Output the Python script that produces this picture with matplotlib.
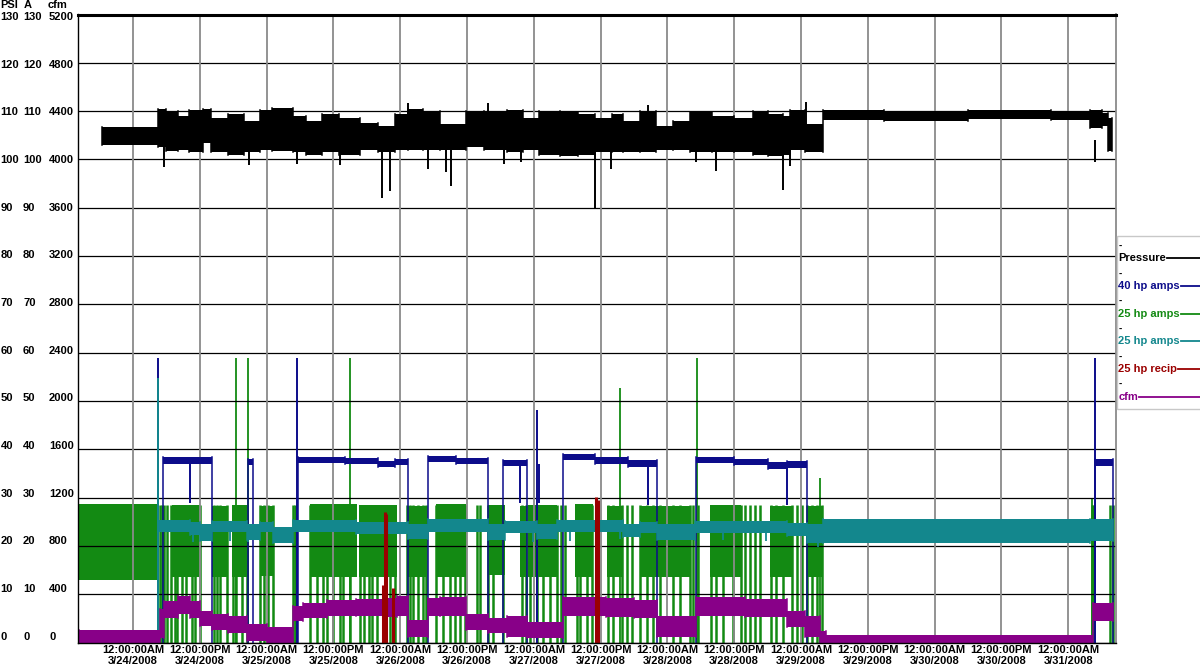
import matplotlib
matplotlib.use("Agg")
import matplotlib.pyplot as plt
import matplotlib.transforms as mtransforms
from matplotlib.lines import Line2D
from matplotlib.patches import Rectangle

plt.rcParams['font.family'] = ['Liberation Sans', 'DejaVu Sans']
plt.rcParams['font.weight'] = 'bold'

# time axis: hours after 12:00:00AM 3/24/2008
tick_hours = list(range(0, 169, 12))
tick_labels = ["12:00:00AM\n3/24/2008", "12:00:00PM\n3/24/2008", "12:00:00AM\n3/25/2008",
               "12:00:00PM\n3/25/2008", "12:00:00AM\n3/26/2008", "12:00:00PM\n3/26/2008",
               "12:00:00AM\n3/27/2008", "12:00:00PM\n3/27/2008", "12:00:00AM\n3/28/2008",
               "12:00:00PM\n3/28/2008", "12:00:00AM\n3/29/2008", "12:00:00PM\n3/29/2008",
               "12:00:00AM\n3/30/2008", "12:00:00PM\n3/30/2008", "12:00:00AM\n3/31/2008"]
psi_ticks = list(range(0, 131, 10))
amp_ticks = list(range(0, 131, 10))
cfm_ticks = list(range(0, 5201, 400))

# Pressure (PSI): (hour, low, high) envelope of the trace
pressure_env = [(-5.6, 103.0, 106.8), (4.5, 102.5, 110.5), (6.0, 101.8, 110.0), (8.0, 102.0, 109.0),
                (10.0, 101.5, 110.3), (12.6, 103.5, 110.5), (14.0, 101.5, 108.5), (17.0, 101.0, 109.5),
                (20.0, 101.5, 108.0), (22.8, 102.0, 110.3), (25.0, 101.8, 110.6), (28.8, 101.5, 109.0),
                (31.0, 101.0, 108.0), (34.0, 101.5, 109.5), (37.0, 101.0, 108.5), (40.8, 102.0, 107.5),
                (44.0, 101.5, 107.0), (47.0, 102.0, 109.5), (49.4, 102.0, 110.5), (52.0, 102.0, 110.0),
                (55.1, 101.9, 107.4), (59.9, 102.5, 110.0), (63.0, 102.0, 110.0), (67.1, 101.5, 110.3),
                (70.0, 102.0, 108.5), (73.0, 101.0, 110.0), (76.7, 100.8, 109.8), (80.0, 101.0, 109.5),
                (83.0, 101.5, 108.5), (86.0, 101.5, 109.5), (88.0, 101.5, 108.0), (91.1, 101.5, 110.0),
                (94.0, 102.0, 107.0), (97.0, 102.0, 108.0), (100.0, 101.5, 109.8), (104.0, 101.5, 109.0),
                (108.0, 101.5, 108.5), (111.4, 101.0, 110.0), (114.0, 100.8, 109.5), (116.8, 101.0, 109.0),
                (118.0, 102.0, 110.2), (120.7, 101.5, 107.4), (124.0, 108.2, 110.2), (135.0, 108.0, 110.1),
                (150.0, 108.3, 110.2), (165.0, 108.1, 110.0), (171.9, 106.5, 110.2), (174.0, 107.0, 109.7),
                (175.2, 101.8, 108.5), (175.8, 101.8, 108.5)]
pressure_dips = [(5.6, 98.4), (20.9, 98.8), (29.4, 99.1), (37.1, 98.9), (44.8, 92.0), (46.2, 93.4),
                 (53.0, 98.1), (56.3, 97.4), (57.2, 94.4), (66.6, 99.1), (69.7, 99.4), (83.0, 89.8),
                 (85.8, 98.1), (101.1, 99.4), (104.8, 97.6), (116.8, 93.6), (118.0, 98.6), (172.8, 99.4)]
pressure_peaks = [(49.4, 111.7), (63.8, 111.6), (92.5, 111.2), (120.9, 111.8)]

# 40 hp amps: plateaus (0 = off)
navy_env = [(-9.7, 0, 0), (5.45, 37.0, 38.3), (14.1, 0, 0), (20.7, 36.7, 37.9), (21.6, 0, 0),
            (29.6, 37.2, 38.5), (38.0, 37.0, 38.2), (44.0, 36.3, 37.6), (47.0, 36.7, 37.9), (49.4, 0, 0),
            (53.0, 37.4, 38.7), (58.0, 37.0, 38.2), (63.8, 0, 0), (66.5, 36.6, 37.8), (70.8, 0, 0),
            (77.3, 37.8, 39.1), (83.0, 37.0, 38.3), (89.0, 36.4, 37.7), (94.1, 0, 0),
            (101.2, 37.2, 38.5), (108.0, 36.8, 38.0), (114.0, 36.0, 37.3), (117.4, 36.2, 37.5),
            (121.0, 0, 0), (172.8, 36.6, 37.9), (176.0, 0, 0)]
navy_drops = [(10.2, 28.8), (69.5, 28.8), (72.9, 28.8), (92.5, 28.5), (117.4, 28.5)]
navy_spikes = [(4.5, 58.9), (29.4, 58.8), (72.6, 48.1), (172.8, 58.8)]

# 25 hp amps (green): loaded blocks, unload switching times, spikes
green_blocks = [(-9.7, 4.5, 13.0, 28.6), (6.9, 12.0, 13.5, 28.5), (14.1, 16.8, 13.5, 28.3),
                (17.7, 20.6, 13.5, 28.5), (22.8, 25.2, 13.8, 28.3), (31.8, 40.2, 13.5, 28.6),
                (40.5, 47.4, 13.5, 28.5), (49.2, 52.7, 13.5, 28.3), (54.5, 59.9, 13.5, 28.7),
                (63.8, 66.8, 14.0, 28.4), (69.5, 70.7, 13.5, 28.3), (71.0, 76.1, 13.5, 28.5),
                (79.4, 82.7, 13.5, 28.6), (85.1, 88.1, 13.5, 28.3), (91.1, 100.0, 13.5, 28.3),
                (103.6, 109.3, 13.5, 28.5), (114.4, 118.3, 13.5, 28.2), (121.0, 123.9, 13.5, 28.2)]
green_switch = [4.85, 5.15, 5.57, 6.05, 6.82, 7.54, 7.96, 8.74, 9.52, 10.5, 11.1, 12.0, 14.5, 15.0,
                15.6, 16.8, 18.0, 18.5, 19.5, 20.4, 22.8, 23.5, 24.3, 25.2, 28.8, 29.1, 31.8, 33.0,
                34.2, 34.8, 36.0, 37.2, 37.8, 39.0, 40.8, 41.4, 42.3, 42.9, 43.8, 45.3, 46.2, 47.1,
                49.2, 49.7, 50.3, 51.2, 52.1, 52.7, 54.5, 55.7, 56.9, 57.8, 58.7, 59.6, 61.7, 62.3,
                63.8, 64.7, 66.5, 69.8, 70.6, 71.3, 72.5, 73.7, 74.9, 76.1, 76.8, 77.6, 79.7, 80.3,
                81.5, 82.4, 85.4, 86.3, 87.8, 88.7, 89.6, 91.1, 92.3, 93.4, 94.6, 97.0, 98.2, 100.0,
                100.6, 101.5, 103.9, 104.8, 106.0, 107.8, 109.3, 109.9, 110.8, 111.7, 112.6, 114.7,
                115.6, 116.8, 118.3, 119.2, 120.1, 121.0, 121.9, 122.8, 123.7, 172.2, 172.5, 175.5,
                176.0]
green_spikes = [(18.5, 58.9), (20.7, 58.9), (39.0, 58.9), (87.5, 52.6), (101.3, 58.8),
                (123.4, 34.0), (172.2, 29.8)]

# 25 hp amps (teal)
teal_env = [(4.5, 22.8, 25.4), (10.2, 22.3, 25.0), (12.0, 21.0, 24.5), (14.1, 22.8, 25.2),
            (20.4, 21.2, 24.5), (22.8, 22.8, 25.0), (25.2, 20.7, 24.0), (28.8, 22.8, 25.3),
            (40.0, 22.5, 25.0), (49.4, 21.5, 24.5), (53.0, 22.8, 25.5), (63.8, 21.2, 24.5),
            (66.8, 22.6, 25.1), (72.5, 21.5, 24.5), (76.1, 22.8, 25.3), (88.1, 21.8, 24.6),
            (91.1, 22.6, 25.0), (94.1, 21.3, 24.5), (101.0, 22.7, 25.2), (117.4, 22.0, 24.8),
            (121.0, 20.7, 24.5), (124.0, 20.6, 25.6), (172.0, 21.0, 25.5), (176.0, 21.0, 25.5)]
teal_dips = [(10.7, 20.9), (17.4, 21.0), (20.7, 20.8), (71.9, 20.8), (78.5, 21.0), (87.5, 21.5),
             (106.0, 21.2), (113.8, 21.0), (123.0, 19.8)]
teal_spikes = [(4.5, 54.7)]

# 25 hp recip
recip_bars = [(44.9, 12.0), (45.2, 27.1), (45.5, 26.5), (46.7, 11.2), (83.2, 30.2), (83.5, 29.5)]

# cfm (in cfm units)
cfm_env = [(-9.7, 0, 104), (4.85, 40, 280), (5.5, 200, 344), (8.0, 232, 384), (10.2, 200, 340),
           (12.0, 140, 260), (14.1, 104, 240), (17.0, 76, 216), (20.4, 12, 152), (24.0, 0, 132),
           (28.8, 180, 300), (30.5, 200, 328), (34.8, 216, 352), (40.0, 216, 360), (45.0, 208, 372),
           (47.5, 220, 384), (49.4, 48, 188), (53.0, 216, 372), (55.1, 216, 380), (59.9, 104, 240),
           (63.8, 80, 200), (67.1, 48, 216), (70.8, 40, 172), (77.3, 216, 380), (85.0, 208, 368),
           (90.0, 200, 352), (94.1, 48, 216), (101.2, 216, 380), (110.0, 208, 360), (117.4, 132, 260),
           (120.7, 48, 216), (123.4, 0, 92), (124.5, 0, 64), (172.5, 180, 324), (176.1, 180, 324)]

names = ["Pressure", "40 hp amps", "25 hp amps", "25 hp amps", "25 hp recip", "cfm"]
colors = ["#000000", "#0c0c8a", "#138a13", "#13878d", "#9a0000", "#880088"]
cfm_scale = cfm_ticks[-1] / psi_ticks[-1]


def step_band(ax, env, color, z):
    # stepped band, rows with 0/0 mean the series is off
    t_start, lo_start, hi_start = env[0]
    if hi_start > 0:
        ax.plot([t_start, t_start], [lo_start, hi_start], color=color, lw=1.1, zorder=z)
    for i in range(len(env) - 1):
        t0, lo, hi = env[i]
        t1, lo2, hi2 = env[i + 1]
        if hi > 0:
            ax.fill_between([t0, t1], lo, hi, color=color, lw=0, zorder=z)
        if hi > 0 or hi2 > 0:
            a = lo if hi > 0 else 0
            b = lo2 if hi2 > 0 else 0
            ax.plot([t1, t1], [min(a, b), max(hi, hi2)], color=color, lw=1.1, zorder=z)


fig = plt.figure(figsize=(12, 6.69), dpi=100)
ax = fig.add_axes([78 / 1200, 1 - 642.5 / 669, (1116 - 78) / 1200, (642.5 - 14.5) / 669])
ax.set_xlim(-9.9, 176.6)
ax.set_ylim(0, 130)

for v in psi_ticks:
    ax.axhline(v, color="black", lw=0.9, zorder=2.5)
for h in tick_hours:
    ax.axvline(h, color="#8a8a8a", lw=1.3, zorder=2.5)

# 25 hp amps green
gc = colors[2]
for t0, t1, lo, hi in green_blocks:
    ax.fill_between([t0, t1], lo, hi, color=gc, lw=0, zorder=2)
ax.vlines(green_switch, 0, 28.4, color=gc, lw=1.8, zorder=2)
ax.vlines([s[0] for s in green_spikes], 0, [s[1] for s in green_spikes], color=gc, lw=1.3, zorder=2)

# 40 hp amps
nc = colors[1]
step_band(ax, navy_env, nc, 3)
ax.vlines([d[0] for d in navy_drops], [d[1] for d in navy_drops], 37, color=nc, lw=1.4, zorder=3)
ax.vlines([s[0] for s in navy_spikes], 0, [s[1] for s in navy_spikes], color=nc, lw=1.4, zorder=3)

# 25 hp amps teal
tc = colors[3]
step_band(ax, teal_env, tc, 4)
ax.vlines([d[0] for d in teal_dips], [d[1] for d in teal_dips], 23, color=tc, lw=1.3, zorder=4)
ax.vlines([s[0] for s in teal_spikes], 0, [s[1] for s in teal_spikes], color=tc, lw=1.4, zorder=4)

# cfm
pc = colors[5]
cfm_axis = [(t, lo / cfm_scale, hi / cfm_scale) for t, lo, hi in cfm_env]
step_band(ax, cfm_axis, pc, 5)

# recip
ax.vlines([r[0] for r in recip_bars], 0, [r[1] for r in recip_bars], color=colors[4], lw=2.2, zorder=6)

# pressure
step_band(ax, pressure_env, colors[0], 7)
ax.vlines([d[0] for d in pressure_dips], [d[1] for d in pressure_dips], 104, color="black", lw=1.4, zorder=7)
ax.vlines([p[0] for p in pressure_peaks], 107, [p[1] for p in pressure_peaks], color="black", lw=1.4, zorder=7)

# axes frame
for side in ["left", "bottom"]:
    ax.spines[side].set_color("black")
    ax.spines[side].set_linewidth(1.0)
ax.spines["top"].set_linewidth(2.2)
ax.spines["right"].set_color("#8a8a8a")
ax.spines["right"].set_linewidth(1.3)
for s in ax.spines.values():
    s.set_zorder(8)

ax.set_yticks([])
ax.set_xticks(tick_hours)
ax.set_xticklabels(tick_labels, fontsize=8, fontweight="bold", linespacing=1.15)
ax.tick_params(axis="x", length=0, pad=1.5)

# three y scales on the left
trans = mtransforms.blended_transform_factory(fig.transFigure, ax.transData)
for p, a, c in zip(psi_ticks, amp_ticks, cfm_ticks):
    y = 1.2 + 0.987 * p
    fig.text(0.5 / 1200, y, str(p), transform=trans, fontsize=8, va="center", ha="left")
    fig.text(23 / 1200, y, str(a), transform=trans, fontsize=8, va="center", ha="left")
    fig.text(49 / 1200, y, str(c), transform=trans, fontsize=8, va="center", ha="left")
fig.text(0.5 / 1200, 1 - 5 / 669, "PSI", fontsize=8, va="center", ha="left")
fig.text(24 / 1200, 1 - 5 / 669, "A", fontsize=8, va="center", ha="left")
fig.text(48 / 1200, 1 - 5 / 669, "cfm", fontsize=8, va="center", ha="left")

# legend box on the right
fig.patches.append(Rectangle((1117 / 1200, 1 - 409 / 669), 0.1, (409 - 236) / 669,
                             transform=fig.transFigure, fill=False, edgecolor="#c8c8c8", lw=1))
fig.canvas.draw()
renderer = fig.canvas.get_renderer()
for i, (name, col) in enumerate(zip(names, colors)):
    yl = 258.3 + i * 27.7
    fig.text(1118.5 / 1200, 1 - (yl - 12.5) / 669, "-", fontsize=7, color="black", va="center", ha="left")
    t = fig.text(1118.5 / 1200, 1 - yl / 669, name, fontsize=8, color=col, va="center", ha="left")
    ext = t.get_window_extent(renderer)
    fig.lines.append(Line2D([(ext.x1 + 1) / 1200, 1.0], [1 - yl / 669, 1 - yl / 669],
                            transform=fig.transFigure, color=col, lw=1.3))

fig.savefig("out.png", dpi=100)
